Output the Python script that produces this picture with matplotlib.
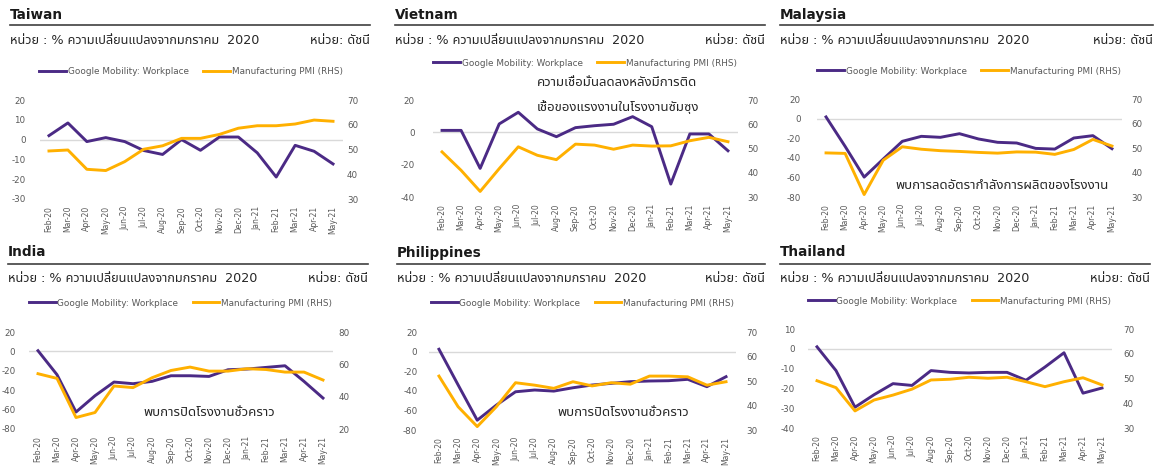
import numpy as np
import matplotlib
matplotlib.use('Agg')
import matplotlib.pyplot as plt
from matplotlib import font_manager
from matplotlib.ft2font import FT2Font
from matplotlib.lines import Line2D

months = ['Feb-20', 'Mar-20', 'Apr-20', 'May-20', 'Jun-20', 'Jul-20', 'Aug-20', 'Sep-20',
          'Oct-20', 'Nov-20', 'Dec-20', 'Jan-21', 'Feb-21', 'Mar-21', 'Apr-21', 'May-21']

taiwan_mobility = [2, 8.4, -1, 1, -1, -5.5, -7.5, 0, -5.4, 1.3, 1.3, -6.7, -18.9, -2.9, -5.9, -12.3]
taiwan_pmi = [49.4, 49.8, 42.0, 41.5, 45.1, 50.1, 51.5, 54.5, 54.5, 56.1, 58.6, 59.6, 59.6, 60.3, 61.9, 61.4]

vietnam_mobility = [1.2, 1.2, -22.3, 5.2, 12.4, 2.1, -2.7, 2.9, 4.1, 5.0, 9.7, 3.5, -32.0, -1.0, -1.0, -11.4]
vietnam_pmi = [48.6, 41.0, 32.3, 41.7, 50.7, 47.2, 45.4, 51.8, 51.4, 49.7, 51.4, 51.0, 51.1, 53.2, 54.6, 52.8]

malaysia_mobility = [1.7, -28.3, -59.7, -41.3, -23.2, -18.1, -19.1, -15.4, -20.8, -24.2, -24.9, -30.4, -31.1, -19.8, -17.4, -30.7]
malaysia_pmi = [48.0, 47.8, 31.0, 45.0, 50.5, 49.5, 48.9, 48.6, 48.2, 47.9, 48.4, 48.3, 47.4, 49.4, 53.5, 50.8]

india_mobility = [0.7, -24, -62.5, -45.7, -31.6, -33.3, -30.9, -25.1, -25.1, -25.8, -18.9, -18.2, -16.5, -14.8, -30.9, -48.1]
india_pmi = [54.2, 51.3, 27.1, 30.2, 46.6, 45.6, 51.7, 56.2, 58.3, 55.8, 55.8, 57.3, 56.8, 55.2, 55.2, 50.3]

philippines_mobility = [2.4, -34, -70, -54.6, -41, -39.2, -40.3, -36.9, -34.1, -32.4, -30.7, -30, -29.7, -28.3, -35.8, -25.6]
philippines_pmi = [52.0, 39.5, 31.4, 39.5, 49.3, 48.3, 47.0, 49.7, 48.0, 49.3, 48.7, 52.0, 52.0, 51.7, 48.3, 49.7]

thailand_mobility = [1.0, -11, -29.5, -23.2, -17.6, -18.5, -11, -11.9, -12.2, -11.9, -11.9, -15.9, -9.2, -2.0, -22.4, -19.8]
thailand_pmi = [49.1, 46.3, 36.9, 41.3, 43.3, 45.7, 49.4, 49.7, 50.5, 50.1, 50.5, 48.7, 46.7, 48.7, 50.3, 47.4]

subtitle_left = 'หน่วย : % ความเปลี่ยนแปลงจากมกราคม  2020'
subtitle_right = 'หน่วย: ดัชนี'
legend_labels = ['Google Mobility: Workplace', 'Manufacturing PMI (RHS)']

PURPLE = '#4B2A85'
ORANGE = '#FFB000'
GREY = '#595959'


def find_thai_font():
    preferred = ['Noto Sans Thai', 'Noto Sans Thai UI', 'Loma', 'Garuda', 'Waree', 'Tlwg Typo', 'Norasi']
    found = {}
    for path in font_manager.findSystemFonts():
        try:
            f = FT2Font(path)
            if 0x0E01 in f.get_charmap():
                name = font_manager.FontProperties(fname=path).get_name()
                font_manager.fontManager.addfont(path)
                found[name] = path
        except Exception:
            continue
    for name in preferred:
        if name in found:
            return name
    return next(iter(found), None)


thai = find_thai_font()
plt.rcParams['font.family'] = ['DejaVu Sans'] + ([thai] if thai else [])
plt.rcParams['axes.unicode_minus'] = False

# layout in pixels: axes box (x0, x1, ytop, ybottom), tick pads, title/rule/subtitle/legend y, rule x range
panels = [
    dict(name='Taiwan', mob=taiwan_mobility, pmi=taiwan_pmi, l=(-30, 20, 10), r=(30, 70, 10),
         box=(39.5, 342.5, 100, 199), pads=(14, 4.5), ty=15, ly=25, sy=40, gy=72, lx=(10, 370)),
    dict(name='Vietnam', mob=vietnam_mobility, pmi=vietnam_pmi, l=(-40, 20, 20), r=(30, 70, 10),
         box=(432.5, 737.5, 100, 197), pads=(18, 10), ty=15, ly=25, sy=40, gy=63, lx=(395, 765)),
    dict(name='Malaysia', mob=malaysia_mobility, pmi=malaysia_pmi, l=(-80, 20, 20), r=(30, 70, 10),
         box=(816.5, 1121.5, 99, 197), pads=(16, 10), ty=15, ly=25, sy=40, gy=71, lx=(780, 1153)),
    dict(name='India', mob=india_mobility, pmi=india_pmi, l=(-80, 20, 20), r=(20, 80, 20),
         box=(28.5, 332.5, 332, 429), pads=(13, 6), ty=252, ly=264, sy=278, gy=303, lx=(8, 368)),
    dict(name='Philippines', mob=philippines_mobility, pmi=philippines_pmi, l=(-80, 20, 20), r=(30, 70, 10),
         box=(429.4, 735.6, 332, 430), pads=(12, 11), ty=253, ly=264, sy=278, gy=303, lx=(397, 765)),
    dict(name='Thailand', mob=thailand_mobility, pmi=thailand_pmi, l=(-40, 10, 10), r=(30, 70, 10),
         box=(807.5, 1111.5, 329, 428), pads=(12.5, 11.5), ty=252, ly=264, sy=278, gy=301, lx=(780, 1150)),
]

notes = [
    (537, 83, 'ความเชื่อมั่นลดลงหลังมีการติด'),
    (537, 107, 'เชื้อของแรงงานในโรงงานซัมซุง'),
    (895, 185, 'พบการลดอัตรากำลังการผลิตของโรงงาน'),
    (143, 412, 'พบการปิดโรงงานชั่วคราว'),
    (557, 412, 'พบการปิดโรงงานชั่วคราว'),
]

W, H = 1156, 469
fig = plt.figure(figsize=(W / 100, H / 100), dpi=100)


def fx(px):
    return px / W


def fy(py):
    return 1 - py / H


x = np.arange(len(months))
for p in panels:
    x0, x1, yt, yb = p['box']
    ax = fig.add_axes([fx(x0), fy(yb), (x1 - x0) / W, (yb - yt) / H])
    ax2 = ax.twinx()
    ax.axhline(0, color='#D9D9D9', lw=1, zorder=0)
    l1, = ax.plot(x, p['mob'], color=PURPLE, lw=2.1, solid_joinstyle='round')
    l2, = ax2.plot(x, p['pmi'], color=ORANGE, lw=2.1, solid_joinstyle='round')

    lo, hi, step = p['l']
    ax.set_ylim(lo, hi)
    ax.set_yticks(np.arange(lo, hi + step / 2, step))
    lo, hi, step = p['r']
    ax2.set_ylim(lo, hi)
    ax2.set_yticks(np.arange(lo, hi + step / 2, step))

    ax.set_xlim(-0.5, len(months) - 0.5)
    ax.set_xticks(x)
    ax.set_xticklabels(months, rotation=90, fontsize=5.5, color=GREY)
    ax.tick_params(axis='x', length=0, pad=5)
    ax.tick_params(axis='y', length=0, pad=p['pads'][0] * 0.72, labelsize=6.3, labelcolor=GREY)
    ax2.tick_params(axis='y', length=0, pad=p['pads'][1] * 0.72, labelsize=6.3, labelcolor=GREY)
    for a in (ax, ax2):
        for s in a.spines.values():
            s.set_visible(False)

    fig.legend([l1, l2], legend_labels, loc='center', ncol=2, frameon=False,
               bbox_to_anchor=(fx((x0 + x1) / 2), fy(p['gy'])), fontsize=6.4,
               handlelength=3.0, handletextpad=0.2, columnspacing=1.6, labelcolor=GREY)

    lx0, lx1 = p['lx']
    fig.text(fx(lx0), fy(p['ty']), p['name'], fontsize=9.8, weight='bold', va='center', color='#1A1A1A')
    fig.add_artist(Line2D([fx(lx0), fx(lx1)], [fy(p['ly'])] * 2, color='#404040', lw=1.2))
    fig.text(fx(lx0), fy(p['sy']), subtitle_left, fontsize=9.2, va='center', color='#262626')
    fig.text(fx(lx1), fy(p['sy']), subtitle_right, fontsize=9.2, va='center', ha='right', color='#262626')

for nx, ny, txt in notes:
    fig.text(fx(nx), fy(ny), txt, fontsize=9.5, va='center', color='#262626')

fig.savefig('out.png', dpi=100)
